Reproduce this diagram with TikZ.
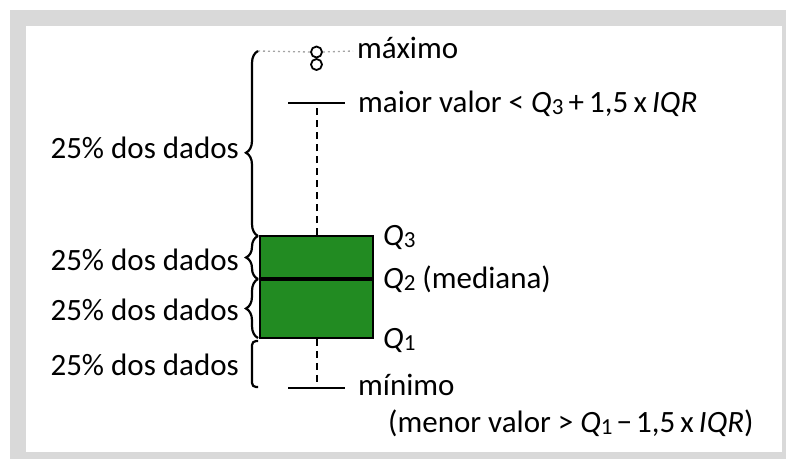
\documentclass[tikz,border=0pt]{standalone}
\usepackage{fontspec}
\setmainfont{Carlito}
\usetikzlibrary{decorations.pathreplacing,positioning}

\definecolor{framegrey}{RGB}{217,217,217}
\definecolor{boxgreen}{RGB}{34,139,34}
\definecolor{dotgrey}{RGB}{165,165,165}

\newcommand{\qq}[1]{\textit{Q}\raisebox{-2pt}{\fontsize{23}{23}\selectfont #1}}

\begin{document}
\begin{tikzpicture}[x=1pt,y=-1pt,
    lbl/.style={font=\fontsize{31}{36}\selectfont,inner sep=0pt},
    pct/.style={lbl,anchor=base east},
    rlbl/.style={lbl,anchor=base west},
    whisk/.style={line width=2pt,dash pattern=on 7pt off 5pt},
    capline/.style={line width=2pt},
    outl/.style={circle,draw,line width=1.8pt,minimum size=11pt,inner sep=0pt},
    brc/.style={decorate,decoration={brace,amplitude=12pt},line width=2.2pt}]

    % frame
    \fill[white] (0,0) rectangle (786,459);
    \fill[framegrey] (10,10) rectangle (786,459);
    \fill[white] (26,26) rectangle (782,452);

    % box and median
    \node[draw=black,fill=boxgreen,line width=1.6pt,minimum width=113pt,minimum height=102pt,inner sep=0pt] (box) at (316.5,287) {};
    \coordinate (medL) at (260,279);
    \coordinate (medR) at (373,279);
    \draw[line width=4.5pt] (medL) -- (medR);

    % whiskers
    \coordinate (upend) at (316.5,103);
    \coordinate (upL) at (288,103);
    \coordinate (upR) at (345,103);
    \coordinate (lowend) at (316.5,388);
    \coordinate (lowL) at (288,388);
    \coordinate (lowR) at (345,388);
    \draw[whisk] (box.north) -- (upend);
    \draw[capline] (upL) -- (upR);
    \draw[whisk] (box.south) -- (lowend);
    \draw[capline] (lowL) -- (lowR);

    % outliers
    \node[outl] (out1) at (316.5,52) {};
    \node[outl] (out2) at (316.5,64.5) {};

    % labels on the right
    \node[rlbl] (maxlbl) at (357,58) {máximo};
    \node[rlbl] (uplbl) at (358,112) {maior valor < \qq{3}\,+\,1,5\,x\,\textit{IQR}};
    \node[rlbl] (q3lbl) at (383,245) {\qq{3}};
    \node[rlbl] (q2lbl) at (383,288) {\qq{2} (mediana)};
    \node[rlbl] (q1lbl) at (383,348) {\qq{1}};
    \node[rlbl] (minlbl) at (358,395) {mínimo};
    \node[rlbl] (lowlbl) at (388,432) {(menor valor > \qq{1}\hspace{4pt}−\hspace{4pt}1,5\,x\,\textit{IQR})};

    % dotted guide to the maximum
    \coordinate (b1top) at (258,51);
    \coordinate (dotend) at (353,51);
    \draw[dotgrey,line width=1.3pt,dash pattern=on 2pt off 3pt] (b1top) -- (out1.west);
    \draw[dotgrey,line width=1.3pt,dash pattern=on 2pt off 3pt] (out1.east) -- (dotend);

    % braces
    \coordinate (b1bot) at (258,236);
    \coordinate (b2bot) at (258,279);
    \coordinate (b3bot) at (258,338);
    \draw[brc,decoration={aspect=0.45}] (b1bot) -- (b1top);
    \draw[brc] (b2bot) -- (b1bot);
    \draw[brc] (b3bot) -- (b2bot);
    \draw[line width=2.2pt,rounded corners=4pt] (258,341) -- (252,341) -- (252,387) -- (258,387);

    % percentages
    \node[pct] (p1) at (239,158) {25\% dos dados};
    \node[pct] (p2) at (239,270) {25\% dos dados};
    \node[pct] (p3) at (239,320) {25\% dos dados};
    \node[pct] (p4) at (239,375) {25\% dos dados};
\end{tikzpicture}
\end{document}
